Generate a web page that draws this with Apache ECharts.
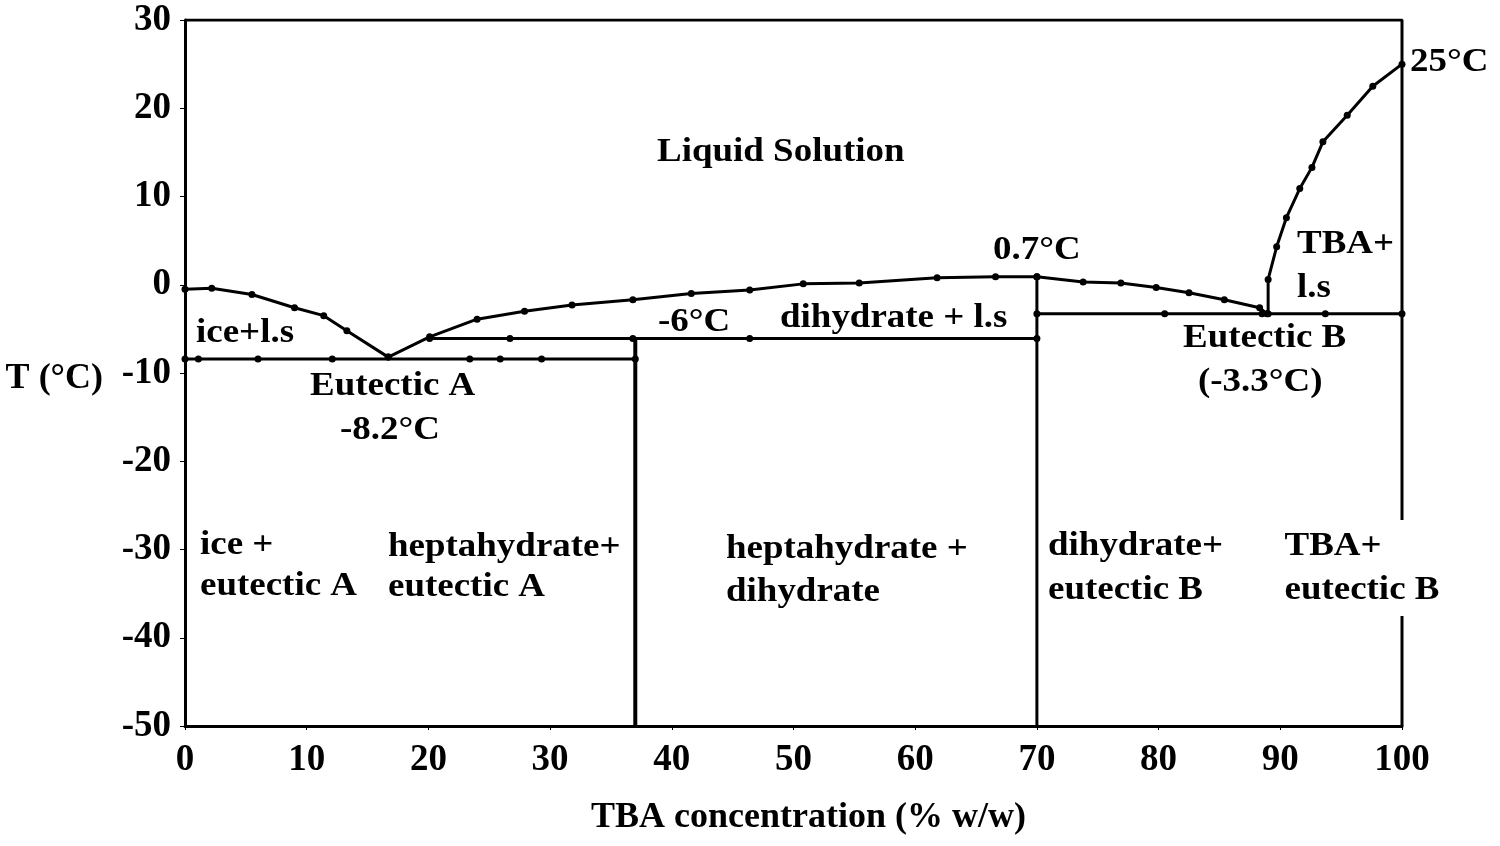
<!DOCTYPE html>
<html>
<head>
<meta charset="utf-8">
<script src="https://cdn.jsdelivr.net/npm/echarts@6/dist/echarts.min.js"></script>
<style>html,body{margin:0;padding:0;background:#fff}#c{width:1500px;height:846px}</style>
</head>
<body>
<div id="c"></div>
<script>
// ---- data (TBA % w/w, temperature °C) ----
const xTicks = [0,10,20,30,40,50,60,70,80,90,100];
const yTicks = [-50,-40,-30,-20,-10,0,10,20,30];
const iceLiquidus = [[0,-0.5],[2.2,-0.4],[5.5,-1.1],[9.0,-2.6],[11.4,-3.5],[13.3,-5.2],[16.7,-8.2]];
const hydrateLiquidus = [[16.7,-8.2],[20.1,-5.9],[24.0,-3.9],[27.9,-3.0],[31.8,-2.3],[36.8,-1.7],[41.6,-1.0],[46.4,-0.6],[50.8,0.1],[55.4,0.2],[61.8,0.8],[66.6,0.9],[70.0,0.9]];
const dihydrateLiquidus = [[70.0,0.9],[73.8,0.3],[76.9,0.2],[79.8,-0.3],[82.5,-0.9],[85.4,-1.7],[88.3,-2.6],[88.9,-3.3]];
const tbaLiquidus = [[89.0,-3.3],[89.0,0.6],[89.7,4.3],[90.5,7.6],[91.6,10.9],[92.6,13.3],[93.5,16.2],[95.5,19.2],[97.6,22.5],[100,25.0]];
const eutecticALine = [[0,-8.4],[1.1,-8.4],[6.0,-8.4],[12.1,-8.4],[23.4,-8.4],[25.9,-8.4],[29.3,-8.4],[37,-8.4]];
const hepta6Line = [[20.1,-6.1],[26.7,-6.1],[36.8,-6.1],[46.4,-6.1],[70,-6.1]];
const eutecticBLine = [[70,-3.3],[80.5,-3.3],[88.5,-3.3],[93.7,-3.3],[100,-3.3]];
const heptaVertical = [[37,-6.1],[37,-50]];
const dihydrateVertical = [[70,0.9],[70,-50]];
const frame = [[0,30],[100,30],[100,-50]];

const chart = echarts.init(document.getElementById('c'));
const FONT = '"Liberation Serif", "Times New Roman", serif';

function lineSeries(data, opts) {
  opts = opts || {};
  return {
    type: 'line', data: data, smooth: false, animation: false,
    symbol: 'circle', symbolSize: opts.sym === 0 ? 0 : (opts.sym || 7),
    showSymbol: opts.sym !== 0,
    itemStyle: {color: '#000'},
    lineStyle: {color: '#000', width: opts.w || 3},
    z: 3
  };
}

// annotation texts (pixel positions, left-anchored)
const labels = [
  ['Liquid Solution', 657, 152],
  ['0.7°C', 993, 250],
  ['25°C', 1410, 62],
  ['TBA+', 1297, 244],
  ['l.s', 1297, 288],
  ['ice+l.s', 196, 333],
  ['-6°C', 658, 322],
  ['dihydrate + l.s', 780, 318],
  ['Eutectic B', 1183, 338],
  ['(-3.3°C)', 1198, 382],
  ['Eutectic A', 310, 386],
  ['-8.2°C', 340, 430],
  ['ice +', 200, 545],
  ['eutectic A', 200, 586],
  ['heptahydrate+', 388, 547],
  ['eutectic A', 388, 587],
  ['heptahydrate +', 726, 549],
  ['dihydrate', 726, 592],
  ['dihydrate+', 1048, 546],
  ['eutectic B', 1048, 590],
];
const graphics = labels.map(l => ({
  type: 'text', x: l[1], y: l[2], scaleX: 1.12, z: 100,
  style: {text: l[0], fontFamily: FONT, fontWeight: 'bold', fontSize: 33, fill: '#000',
          align: 'left', verticalAlign: 'middle'}
}));
graphics.push({
  type: 'text', x: 1280, y: 568, scaleX: 1.12, z: 100,
  style: {text: 'TBA+\neutectic B', fontFamily: FONT, fontWeight: 'bold', fontSize: 33, fill: '#000',
          lineHeight: 44, align: 'left', verticalAlign: 'middle', backgroundColor: '#fff', padding: [4, 4]}
});

chart.setOption({
  animation: false,
  backgroundColor: '#fff',
  grid: {left: 185, right: 98, top: 20, bottom: 120, containLabel: false},
  xAxis: {
    type: 'value', min: 0, max: 100, interval: 10,
    name: 'TBA concentration (% w/w)', nameLocation: 'middle', nameGap: 74,
    nameTextStyle: {fontFamily: FONT, fontWeight: 'bold', fontSize: 36, color: '#000', padding: [0,0,0,30]},
    axisLine: {onZero: false, lineStyle: {color: '#000', width: 3}},
    axisTick: {show: true, length: 4, lineStyle: {color: '#000', width: 1}},
    axisLabel: {fontFamily: FONT, fontWeight: 'bold', fontSize: 37, color: '#000', margin: 16,
                formatter: v => xTicks.includes(v) ? String(v) : ''},
    splitLine: {show: false}
  },
  yAxis: {
    type: 'value', min: -50, max: 30, interval: 10,
    name: 'T (°C)', nameLocation: 'middle', nameRotate: 0, nameGap: 82,
    nameTextStyle: {fontFamily: FONT, fontWeight: 'bold', fontSize: 36, color: '#000', align: 'right', verticalAlign: 'top', padding: [-12,0,0,0]},
    axisLine: {onZero: false, lineStyle: {color: '#000', width: 3}},
    axisTick: {show: true, length: 5, lineStyle: {color: '#000', width: 1}},
    axisLabel: {fontFamily: FONT, fontWeight: 'bold', fontSize: 37, color: '#000', margin: 14,
                formatter: v => yTicks.includes(v) ? String(v) : ''},
    splitLine: {show: false}
  },
  series: [
    lineSeries(frame, {sym: 0}),
    lineSeries(iceLiquidus),
    lineSeries(hydrateLiquidus),
    lineSeries(dihydrateLiquidus),
    lineSeries(tbaLiquidus),
    lineSeries(eutecticALine),
    lineSeries(hepta6Line),
    lineSeries(eutecticBLine),
    lineSeries(heptaVertical, {sym: 0, w: 4}),
    lineSeries(dihydrateVertical, {sym: 0}),
  ],
  graphic: graphics
});
</script>
</body>
</html>
